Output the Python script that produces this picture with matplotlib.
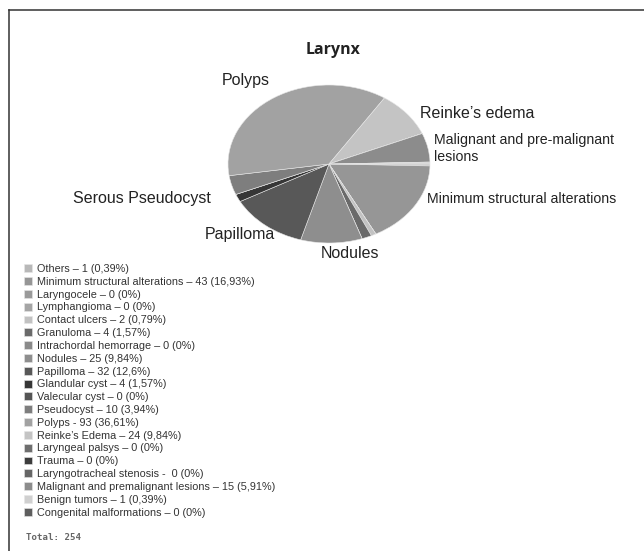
"""Larynx lesion distribution, drawn as a flattened grey pie with a long legend."""

import matplotlib
matplotlib.use("Agg")
import matplotlib.pyplot as plt
from matplotlib.lines import Line2D

plt.rcParams["font.family"] = ["Liberation Sans", "DejaVu Sans"]

W, H = 644, 551

# legend order == clockwise slice order, starting at 3 o'clock
labels = [
    "Others – 1 (0,39%)",
    "Minimum structural alterations – 43 (16,93%)",
    "Laryngocele – 0 (0%)",
    "Lymphangioma – 0 (0%)",
    "Contact ulcers – 2 (0,79%)",
    "Granuloma – 4 (1,57%)",
    "Intrachordal hemorrage – 0 (0%)",
    "Nodules – 25 (9,84%)",
    "Papilloma – 32 (12,6%)",
    "Glandular cyst – 4 (1,57%)",
    "Valecular cyst – 0 (0%)",
    "Pseudocyst – 10 (3,94%)",
    "Polyps - 93 (36,61%)",
    "Reinke’s Edema – 24 (9,84%)",
    "Laryngeal palsys – 0 (0%)",
    "Trauma – 0 (0%)",
    "Laryngotracheal stenosis -  0 (0%)",
    "Malignant and premalignant lesions – 15 (5,91%)",
    "Benign tumors – 1 (0,39%)",
    "Congenital malformations – 0 (0%)",
]
counts = [1, 43, 0, 0, 2, 4, 0, 25, 32, 4, 0, 10, 93, 24, 0, 0, 0, 15, 1, 0]
colors = [
    "#b8b8b8", "#969696", "#9a9a9a", "#a5a5a5", "#c2c2c2",
    "#6a6a6a", "#8a8a8a", "#8e8e8e", "#585858", "#363636",
    "#555555", "#7e7e7e", "#a2a2a2", "#c4c4c4", "#6e6e6e",
    "#3c3c3c", "#666666", "#8c8c8c", "#d0d0d0", "#5e5e5e",
]
total = 254


def px(x, y):
    return x / W, 1 - y / H


fig = plt.figure(figsize=(W / 100, H / 100), dpi=100)
fig.patch.set_facecolor("white")

# pie is squashed into an ellipse, so the axes is not square
x0, x1, y0, y1 = 228, 430, 85, 243
ax = fig.add_axes([x0 / W, 1 - y1 / H, (x1 - x0) / W, (y1 - y0) / H])
wedges, _ = ax.pie(counts, colors=colors, startangle=0, counterclock=False,
                   radius=1, wedgeprops=dict(linewidth=0.4, edgecolor="#e6e6e6"))
ax.set_aspect("auto")
ax.set_xlim(-1, 1)
ax.set_ylim(-1, 1)
ax.axis("off")

fig.text(*px(333, 50), "Larynx", ha="center", va="center",
         fontsize=11.5, fontweight="bold", color="#222222",
         family=["Open Sans", "DejaVu Sans"])

# slice call-outs
big = dict(fontsize=11.5, color="#222222", va="center")
small = dict(fontsize=10.2, color="#222222", va="center")
fig.text(*px(246, 80), "Polyps", ha="center", **big)
fig.text(*px(420, 113), "Reinke’s edema", ha="left", **big)
fig.text(*px(434, 140), "Malignant and pre-malignant", ha="left", **small)
fig.text(*px(434, 157), "lesions", ha="left", **small)
fig.text(*px(427, 199), "Minimum structural alterations", ha="left", **small)
fig.text(*px(350, 254), "Nodules", ha="center", **big)
fig.text(*px(240, 234), "Papilloma", ha="center", **big)
fig.text(*px(142, 199), "Serous Pseudocyst", ha="center", **big)

leg = fig.legend(wedges, labels, loc="upper left",
                 bbox_to_anchor=px(24, 264), frameon=False,
                 fontsize=7.8, labelspacing=0.26, handlelength=0.74,
                 handleheight=0.74, handletextpad=0.46, borderpad=0,
                 borderaxespad=0)
for t in leg.get_texts():
    t.set_color("#333333")

fig.text(*px(26, 538), f"Total: {total}", ha="left", va="center",
         fontsize=6.6, fontweight="bold", color="#666666",
         family=["DejaVu Sans Mono", "DejaVu Sans"])

# frame: only the top and left rules are visible
fig.add_artist(Line2D([9 / W, 1], [1 - 10 / H] * 2, color="#333333", lw=1.1))
fig.add_artist(Line2D([9 / W] * 2, [1 - 10 / H, 0], color="#333333", lw=1.1))

fig.savefig("out.png", dpi=100)
